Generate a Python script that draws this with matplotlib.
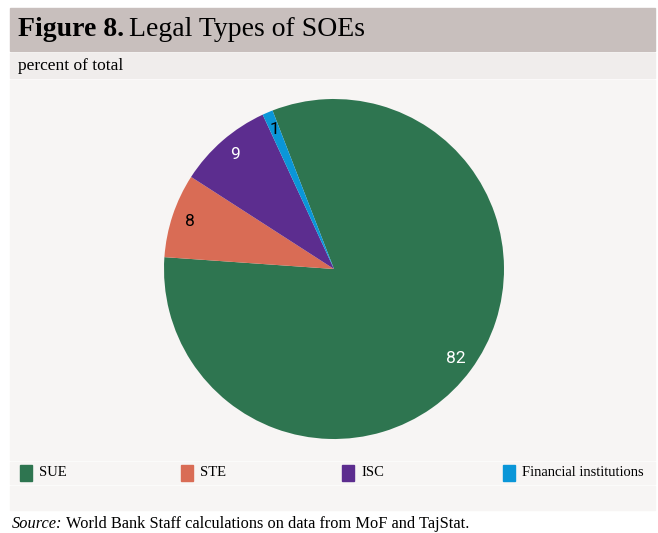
import matplotlib.pyplot as plt
from matplotlib.patches import Rectangle

labels = ["SUE", "STE", "ISC", "Financial institutions"]
shares = [82, 8, 9, 1]
colors = ["#2e7550", "#d96c55", "#5c2d8f", "#0a96d8"]
label_colors = ["white", "black", "white", "black"]

W, H = 658, 533
fig = plt.figure(figsize=(W / 100, H / 100), dpi=100)
fig.patch.set_facecolor("white")


def band(y0, y1, color):
    # y in pixels from top
    fig.patches.append(Rectangle((10 / W, 1 - y1 / H), 645 / W, (y1 - y0) / H,
                                 transform=fig.transFigure, color=color, zorder=-5))


band(8, 51, "#c8bfbd")
band(53, 78, "#f0edec")
band(80, 460, "#f7f5f4")
band(462, 484, "#f7f5f4")
band(486, 510, "#f7f5f4")

serif = "Liberation Serif"
renderer = fig.canvas.get_renderer()
t1 = fig.text(18 / W, 1 - 30 / H, "Figure 8.", fontsize=20, fontweight="bold",
              family=serif, va="center", ha="left")
bb = t1.get_window_extent(renderer)
fig.text((bb.x1 + 5) / W, 1 - 30 / H, "Legal Types of SOEs", fontsize=20,
         family=serif, va="center", ha="left")
fig.text(18 / W, 1 - 66 / H, "percent of total", fontsize=12.5, family=serif,
         va="center", ha="left")
s1 = fig.text(12 / W, 1 - 524 / H, "Source:", fontsize=11.8, family=serif,
              style="italic", va="center", ha="left")
bb = s1.get_window_extent(renderer)
fig.text((bb.x1 + 3) / W, 1 - 524 / H,
         "World Bank Staff calculations on data from MoF and TajStat.",
         fontsize=11.8, family=serif, va="center", ha="left")

# pie: center (334, 269), radius ~170 px
r = 170
ax = fig.add_axes([(334 - r) / W, 1 - (269 + r) / H, 2 * r / W, 2 * r / H])
ax.set_zorder(2)
ax.set_facecolor("none")
wedges, texts, autotexts = ax.pie(
    shares, colors=colors, startangle=111.2, counterclock=False,
    autopct=lambda p: f"{p:.0f}", pctdistance=0.89, radius=1,
    wedgeprops=dict(linewidth=0),
    textprops=dict(fontsize=12.5, family="Roboto"),
)
for t, c in zip(autotexts, label_colors):
    t.set_color(c)
ax.set_xlim(-1, 1)
ax.set_ylim(-1, 1)
ax.set_aspect("equal")

# legend row
for i, (lab, col) in enumerate(zip(labels, colors)):
    x = 20 + i * 161
    fig.patches.append(Rectangle((x / W, 1 - 481 / H), 12 / W, 16 / H,
                                 transform=fig.transFigure, color=col, zorder=1))
    fig.text((x + 19) / W, 1 - 473 / H, lab, fontsize=10.5, family=serif,
             va="center", ha="left")

fig.savefig("out.png", dpi=100)
